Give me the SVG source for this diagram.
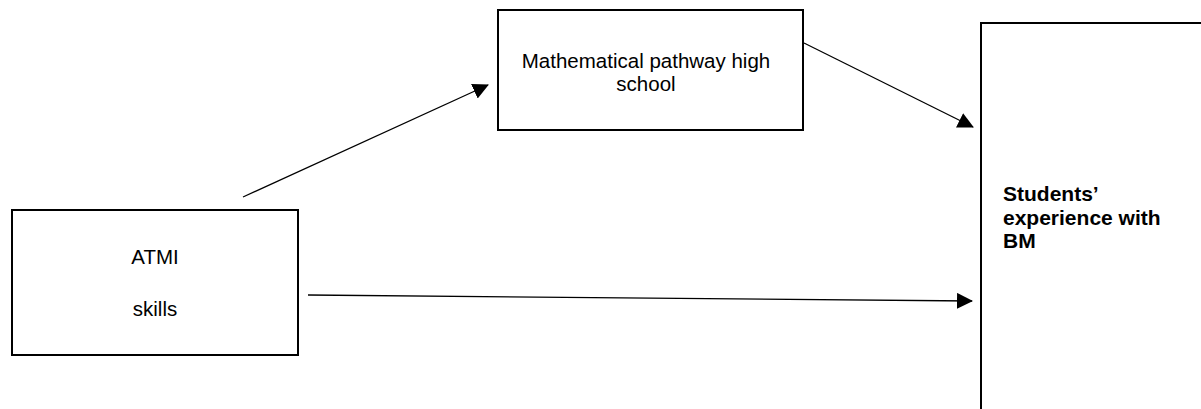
<svg xmlns="http://www.w3.org/2000/svg" width="1201" height="409" viewBox="0 0 1201 409">
<style>
.box{fill:#fff;stroke:#000;stroke-width:2}
.t{font-family:"Liberation Sans",Arial,sans-serif;font-size:20.5px;fill:#000}
.b{font-weight:bold;font-size:21px}
.c{stroke:#000;stroke-width:1.3;fill:none;marker-end:url(#ah)}
</style>
<defs>
<marker id="ah" markerUnits="userSpaceOnUse" markerWidth="16" markerHeight="16" viewBox="0 0 16 16" refX="15" refY="8" orient="auto">
<path d="M0,0 L16,8 L0,16 Z" fill="#000"/>
</marker>
</defs>
<rect width="1201" height="409" fill="#fff"/>
<g id="math">
<rect class="box" x="498" y="10" width="305" height="120"/>
<text class="t" x="646" y="68" text-anchor="middle">Mathematical pathway high</text>
<text class="t" x="646" y="91" text-anchor="middle">school</text>
</g>
<g id="atmi">
<rect class="box" x="12" y="210" width="286" height="145"/>
<text class="t" x="155" y="264" text-anchor="middle">ATMI</text>
<text class="t" x="155" y="316" text-anchor="middle">skills</text>
</g>
<g id="students">
<rect class="box" x="981" y="23" width="240" height="420"/>
<text class="t b" x="1003" y="201">Students’</text>
<text class="t b" x="1003" y="225">experience with</text>
<text class="t b" x="1003" y="248">BM</text>
</g>
<g id="connectors">
<line class="c" x1="243" y1="197" x2="488" y2="85"/>
<line class="c" x1="804" y1="43" x2="973" y2="127"/>
<line class="c" x1="308" y1="295" x2="972" y2="301"/>
</g>
</svg>
